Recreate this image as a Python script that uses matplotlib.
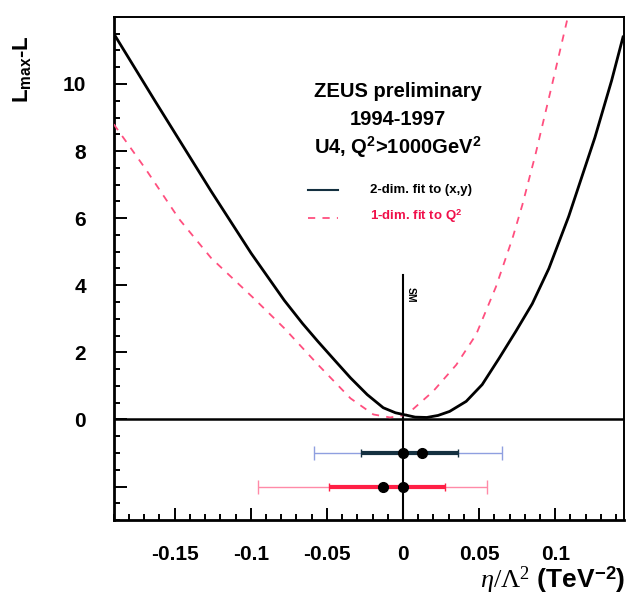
import matplotlib
matplotlib.use('Agg')
import matplotlib.pyplot as plt
from matplotlib.ticker import MultipleLocator, FixedLocator

plt.rcParams['font.family'] = ['Liberation Sans', 'DejaVu Sans']
plt.rcParams['mathtext.fontset'] = 'custom'
plt.rcParams['mathtext.rm'] = 'Liberation Serif'
plt.rcParams['mathtext.it'] = 'Liberation Serif:italic'
plt.rcParams['mathtext.bf'] = 'Liberation Sans:bold'

# 2-dim fit to (x,y)
x_2dim = [-0.19, -0.163, -0.126, -0.0997, -0.078, -0.066, -0.056, -0.045, -0.0345,
          -0.0235, -0.013, -0.005, 0.0, 0.008, 0.0156, 0.023, 0.0306, 0.0415,
          0.052, 0.0632, 0.074, 0.0849, 0.0958, 0.1088, 0.126, 0.137, 0.1445]
y_2dim = [11.5, 9.5, 6.8, 4.95, 3.55, 2.86, 2.33, 1.77, 1.24,
          0.74, 0.35, 0.2, 0.15, 0.07, 0.06, 0.12, 0.24, 0.54,
          1.04, 1.83, 2.62, 3.45, 4.5, 6.05, 8.4, 10.1, 11.4]

# 1-dim fit to Q^2
x_1dim = [-0.19, -0.169, -0.147, -0.126, -0.098, -0.078, -0.056, -0.0345, -0.0195,
          -0.0085, 0.0024, 0.0198, 0.035, 0.048, 0.061, 0.0719, 0.0784, 0.087,
          0.098, 0.1088]
y_1dim = [8.8, 7.46, 5.97, 4.81, 3.61, 2.72, 1.64, 0.63, 0.15,
          0.06, 0.14, 0.84, 1.63, 2.53, 3.95, 5.4, 6.4, 7.9,
          10.0, 12.1]

# best fit values and intervals (row at y=-1: 2-dim, row at y=-2: 1-dim)
best_2dim = 0.0122
inner_2dim = [-0.0276, 0.036]
outer_2dim = [-0.0588, 0.065]
best_1dim = -0.0132
inner_1dim = [-0.0487, 0.0274]
outer_1dim = [-0.0953, 0.0552]

fig = plt.figure(figsize=(6.32, 6.02), dpi=100)
ax = fig.add_axes([0.180, 0.136, 0.807, 0.836])

ax.plot(x_2dim, y_2dim, '-', color='black', lw=2.0, zorder=5,
        solid_joinstyle='round')
ax.plot(x_1dim, y_1dim, color='#ff4f7f', lw=1.3, dashes=(4, 4), zorder=4)

ax.axhline(0, color='black', lw=1.8, zorder=3)
ax.plot([0, 0], [-3, 4.3], color='black', lw=1.5, zorder=3)

# outer (thin) and inner (thick) intervals
def interval(best, lo_hi, yrow, color, lw, cap):
    ax.errorbar([best], [yrow], xerr=[[best - lo_hi[0]], [lo_hi[1] - best]],
                fmt='none', ecolor=color, elinewidth=lw, capsize=cap,
                capthick=1.0, zorder=6)

interval(best_2dim, outer_2dim, -1, '#8f9fe0', 1.0, 5)
interval(best_2dim, inner_2dim, -1, '#143040', 3.0, 3)
interval(best_1dim, outer_1dim, -2, '#ff8aa8', 1.0, 5)
interval(best_1dim, inner_1dim, -2, '#ff1f45', 3.0, 3)

ax.plot([0, best_2dim], [-1, -1], 'o', color='black', ms=7, zorder=7)
ax.plot([best_1dim, 0], [-2, -2], 'o', color='black', ms=7, zorder=7)

ax.set_xlim(-0.19, 0.145)
ax.set_ylim(-3, 12)

ax.xaxis.set_major_locator(FixedLocator([-0.15, -0.1, -0.05, 0, 0.05, 0.1]))
ax.set_xticklabels(['-0.15', '-0.1', '-0.05', '0', '0.05', '0.1'])
ax.xaxis.set_minor_locator(MultipleLocator(0.01))
ax.yaxis.set_major_locator(FixedLocator([-2, 0, 2, 4, 6, 8, 10]))
ax.set_yticklabels(['', '0', '2', '4', '6', '8', '10'])
ax.yaxis.set_minor_locator(MultipleLocator(0.5))

ax.tick_params(which='both', direction='in', top=False, right=False, width=1.4)
ax.tick_params(which='major', length=9)
ax.tick_params(which='minor', length=4.5)
ax.tick_params(axis='x', pad=18, labelsize=15)
ax.tick_params(axis='y', pad=20, labelsize=15)
for lab in ax.get_xticklabels() + ax.get_yticklabels():
    lab.set_fontweight('bold')

for s in ['left', 'bottom']:
    ax.spines[s].set_linewidth(2.0)
for s in ['top', 'right']:
    ax.spines[s].set_linewidth(1.4)

# TEXT
ax.text(0.557, 0.851, 'ZEUS preliminary', transform=ax.transAxes,
        ha='center', va='center', fontsize=14.5, fontweight='bold')
ax.text(0.557, 0.797, '1994-1997', transform=ax.transAxes,
        ha='center', va='center', fontsize=14.5, fontweight='bold')
ax.text(0.557, 0.740, r'U4, Q$^{\mathbf{2}}$>1000GeV$^{\mathbf{2}}$', transform=ax.transAxes,
        ha='center', va='center', fontsize=14.5, fontweight='bold')

ax.plot([0.380, 0.439], [0.656, 0.656], '-', color='#143040', lw=1.5, transform=ax.transAxes)
ax.plot([0.380, 0.439], [0.600, 0.600], color='#ff4f7f', lw=1.3, dashes=(4, 4),
        transform=ax.transAxes)
ax.text(0.502, 0.656, '2-dim. fit to (x,y)', transform=ax.transAxes,
        ha='left', va='center', fontsize=9.5, fontweight='bold')
ax.text(0.502, 0.604, r'1-dim. fit to Q$^{\mathbf{2}}$', transform=ax.transAxes,
        ha='left', va='center', fontsize=9.5, fontweight='bold', color='#f0104a')

ax.text(0.583, 0.447, 'SM', transform=ax.transAxes, rotation=-90,
        ha='center', va='center', fontsize=7.5, fontweight='bold')

fig.text(0.036, 0.885, r'$\mathbf{L_{max}}$-L', rotation=90, ha='center', va='center',
         fontsize=16, fontweight='bold')
fig.text(0.989, 0.037, r'$\eta/\Lambda^2$ (TeV$^{\mathbf{-2}}$)', ha='right', va='center',
         fontsize=19, fontweight='bold')

plt.savefig('out.png', dpi=100)
